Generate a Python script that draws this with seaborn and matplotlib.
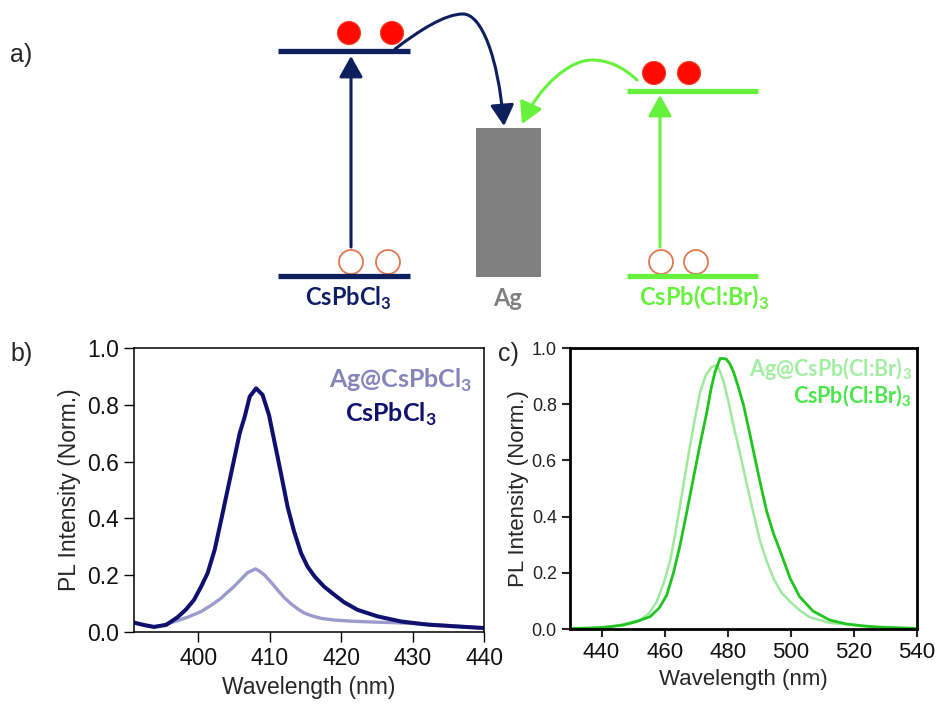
import matplotlib
matplotlib.use("Agg")
import numpy as np
import pandas as pd
import matplotlib.pyplot as plt
import seaborn as sns
from matplotlib.patches import Rectangle, Circle, FancyArrowPatch
from matplotlib.path import Path

# ---------------- data ----------------
# Panel b: CsPbCl3 and Ag@CsPbCl3
wl_b_pure = [391, 392.5, 393.8, 395.5, 397.1, 398.3, 399.4, 400.4, 401.3, 402.3, 403.2, 404.1,
             405.0, 405.8, 406.5, 407.2, 408.1, 409.0, 409.9, 410.5, 411.1, 411.8, 412.5, 413.4,
             414.4, 415.3, 416.3, 417.6, 419.1, 420.4, 422.3, 425.1, 428.4, 432.1, 435.9, 440]
pl_b_pure = [0.033, 0.024, 0.018, 0.025, 0.052, 0.080, 0.113, 0.160, 0.207, 0.290, 0.394, 0.500,
             0.606, 0.700, 0.758, 0.829, 0.858, 0.835, 0.764, 0.690, 0.617, 0.530, 0.441, 0.355,
             0.277, 0.230, 0.195, 0.160, 0.130, 0.105, 0.078, 0.055, 0.037, 0.026, 0.020, 0.014]
wl_b_ag = [391, 392.5, 393.8, 395.2, 396.6, 398.5, 400.4, 401.8, 403.2, 404.1, 405.0, 406.0,
           406.9, 408.0, 408.6, 409.3, 410.2, 411.1, 412.0, 413.0, 414.0, 414.9, 416.0, 417.2,
           419.1, 421.5, 424.5, 428.4, 433.0, 440]
pl_b_ag = [0.033, 0.024, 0.017, 0.025, 0.036, 0.052, 0.072, 0.094, 0.119, 0.140, 0.160, 0.186,
           0.209, 0.222, 0.214, 0.200, 0.175, 0.148, 0.122, 0.099, 0.080, 0.066, 0.056, 0.048,
           0.042, 0.038, 0.035, 0.032, 0.026, 0.014]

# Panel c: CsPb(Cl:Br)3 and Ag@CsPb(Cl:Br)3
wl_c_pure = [430, 436.3, 440, 446.9, 451.0, 455.4, 458.3, 460.7, 462.8, 464.9, 467.0, 469.1,
             471.2, 473.4, 474.8, 476.0, 477.6, 479.5, 480.6, 481.8, 483.4, 485.0, 486.6, 488.2,
             490.3, 492.4, 494.5, 496.7, 499.8, 502.8, 507.0, 512.3, 517.6, 522.9, 528.1, 540]
pl_c_pure = [0.002, 0.003, 0.005, 0.014, 0.026, 0.044, 0.075, 0.121, 0.200, 0.299, 0.415, 0.536,
             0.655, 0.773, 0.860, 0.916, 0.963, 0.961, 0.945, 0.916, 0.860, 0.797, 0.715, 0.631,
             0.520, 0.417, 0.340, 0.275, 0.180, 0.115, 0.064, 0.032, 0.018, 0.011, 0.006, 0.002]
wl_c_ag = [430, 436.0, 443.5, 446.9, 452.2, 455.0, 457.5, 459.6, 461.7, 463.3, 464.9, 466.5,
           468.1, 469.7, 471.3, 473.1, 475.0, 476.6, 477.6, 478.7, 480.2, 481.8, 484.0, 486.1,
           488.2, 490.3, 492.4, 494.5, 497.0, 499.8, 503.0, 506.0, 512.3, 522.9, 540]
pl_c_ag = [0.002, 0.004, 0.009, 0.017, 0.032, 0.055, 0.097, 0.160, 0.240, 0.335, 0.441, 0.550,
           0.655, 0.755, 0.845, 0.905, 0.933, 0.940, 0.915, 0.880, 0.810, 0.726, 0.620, 0.512,
           0.410, 0.311, 0.240, 0.180, 0.130, 0.097, 0.065, 0.042, 0.022, 0.011, 0.002]

xticks_b = [400, 410, 420, 430, 440]
xticks_c = [440, 460, 480, 500, 520, 540]
yticks = [0.0, 0.2, 0.4, 0.6, 0.8, 1.0]

# ---------------- style ----------------
sns.set_theme(style="ticks")
plt.rcParams['font.family'] = ['Liberation Sans', 'DejaVu Sans']
plt.rcParams['mathtext.fontset'] = 'custom'
plt.rcParams['mathtext.bf'] = 'Lato:bold'
plt.rcParams['mathtext.rm'] = 'Lato'

NAVY = "#0d1f5c"
GREEN = "#66f23c"
GRAY = "#808080"

fig = plt.figure(figsize=(9.38, 7.06), dpi=100)

# ---------------- panel a: schematic ----------------
axa = fig.add_axes([0, 1 - 320 / 706, 1, 320 / 706])
axa.set_xlim(0, 938)
axa.set_ylim(320, 0)
axa.axis("off")

axa.text(10, 55, "a)", fontsize=18, va="center", ha="left", family="Liberation Sans")

# levels
for (x0, x1, y, c) in [(278, 410, 51, NAVY), (278, 410, 276, NAVY),
                       (627, 758, 91, GREEN), (627, 758, 276, GREEN)]:
    axa.plot([x0, x1], [y, y], color=c, lw=3.8, solid_capstyle="butt")

# Ag block
axa.add_patch(Rectangle((476, 128), 65, 149, color=GRAY, lw=0))

# electrons (filled) and holes (open)
for (cx, cy) in [(349, 33), (392, 33), (654, 73), (689, 73)]:
    axa.add_patch(Circle((cx, cy), 11.5, facecolor="#ff0a00", edgecolor="#f04020", lw=0.8))
for (cx, cy) in [(351, 262), (388, 262), (661, 262), (696, 262)]:
    axa.add_patch(Circle((cx, cy), 12, facecolor="white", edgecolor="#e07850", lw=1.3))

# excitation arrows
ast = "-|>,head_length=8,head_width=4.5"
for (x, y0, y1, c) in [(351, 247, 56, NAVY), (660, 247, 95, GREEN)]:
    axa.add_patch(FancyArrowPatch((x, y0), (x, y1), arrowstyle=ast,
                                  color=c, lw=2.2, mutation_scale=1.6, shrinkA=0, shrinkB=0))

# transfer arrows
p1 = Path([(395, 49), (420, 30), (445, 14), (463, 14), (481, 14), (498, 55), (504, 126)],
          [Path.MOVETO, Path.CURVE4, Path.CURVE4, Path.CURVE4, Path.CURVE4, Path.CURVE4, Path.CURVE4])
axa.add_patch(FancyArrowPatch(path=p1, arrowstyle=ast, color=NAVY, lw=2.2, mutation_scale=1.6))
p2 = Path([(637, 80), (622, 66), (607, 60), (592, 60), (570, 60), (540, 85), (522, 124)],
          [Path.MOVETO, Path.CURVE4, Path.CURVE4, Path.CURVE4, Path.CURVE4, Path.CURVE4, Path.CURVE4])
axa.add_patch(FancyArrowPatch(path=p2, arrowstyle=ast, color=GREEN, lw=2.2, mutation_scale=1.6))

lab_kw = dict(fontsize=17, ha="center", va="center", family="Lato", fontweight="bold")
axa.text(348, 298, r"CsPbCl$_\mathbf{3}$", color="#0f1d66", **lab_kw)
axa.text(508, 298, "Ag", color=GRAY, **lab_kw)
axa.text(704, 298, r"CsPb(Cl:Br)$_\mathbf{3}$", color=GREEN, **lab_kw)

# ---------------- panel b ----------------
axb = fig.add_axes([134 / 938, 1 - 632 / 706, 350 / 938, 284 / 706])
df_b = pd.concat([
    pd.DataFrame({"Wavelength": wl_b_ag, "PL": pl_b_ag, "sample": "Ag@CsPbCl3"}),
    pd.DataFrame({"Wavelength": wl_b_pure, "PL": pl_b_pure, "sample": "CsPbCl3"}),
])
sns.lineplot(data=df_b, x="Wavelength", y="PL", hue="sample", size="sample",
             palette={"Ag@CsPbCl3": "#9a9acd", "CsPbCl3": "#10106e"},
             sizes={"Ag@CsPbCl3": 2.4, "CsPbCl3": 2.9},
             sort=False, legend=False, ax=axb)
axb.set_xlim(391, 440)
axb.set_ylim(0, 1.0)
axb.set_xticks(xticks_b)
axb.set_yticks(yticks)
axb.set_yticklabels([f"{v:.1f}" for v in yticks])
axb.tick_params(direction="out", length=7, width=1.0, labelsize=16.5, color="black",
                labelcolor="#111111", pad=4)
for s in axb.spines.values():
    s.set_visible(True)
    s.set_linewidth(1.1)
    s.set_color("black")
axb.set_xlabel("Wavelength (nm)", fontsize=16.5, labelpad=4)
axb.set_ylabel("PL Intensity (Norm.)", fontsize=16.5, labelpad=4)
axb.text(472 / 938, 1 - 380 / 706, r"Ag@CsPbCl$_\mathbf{3}$", transform=fig.transFigure,
         ha="right", va="center", fontsize=18, family="Lato", fontweight="bold", color="#8585bc")
axb.text(437 / 938, 1 - 414 / 706, r"CsPbCl$_\mathbf{3}$", transform=fig.transFigure,
         ha="right", va="center", fontsize=18, family="Lato", fontweight="bold", color="#10106e")
fig.text(10 / 938, 1 - 354 / 706, "b)", fontsize=18, va="center", ha="left")

# ---------------- panel c ----------------
axc = fig.add_axes([570 / 938, 1 - 629 / 706, 347 / 938, 281 / 706])
df_c = pd.concat([
    pd.DataFrame({"Wavelength": wl_c_ag, "PL": pl_c_ag, "sample": "Ag@CsPb(Cl:Br)3"}),
    pd.DataFrame({"Wavelength": wl_c_pure, "PL": pl_c_pure, "sample": "CsPb(Cl:Br)3"}),
])
sns.lineplot(data=df_c, x="Wavelength", y="PL", hue="sample", size="sample",
             palette={"Ag@CsPb(Cl:Br)3": "#9fe89f", "CsPb(Cl:Br)3": "#1fc41f"},
             sizes={"Ag@CsPb(Cl:Br)3": 1.8, "CsPb(Cl:Br)3": 2.0},
             sort=False, legend=False, ax=axc)
axc.set_xlim(430, 540)
axc.set_ylim(0, 1.0)
axc.set_xticks(xticks_c)
axc.set_yticks(yticks)
axc.set_yticklabels([f"{v:.1f}" for v in yticks])
axc.tick_params(axis="x", direction="out", length=6, width=1.5, labelsize=16, labelcolor="#111111")
axc.tick_params(axis="y", direction="out", length=6, width=1.5, labelsize=13, labelcolor="#222222")
for s in axc.spines.values():
    s.set_visible(True)
    s.set_linewidth(2.0)
    s.set_color("black")
axc.set_xlabel("Wavelength (nm)", fontsize=16, labelpad=4)
axc.set_ylabel("PL Intensity (Norm.)", fontsize=16, labelpad=2)
axc.text(912 / 938, 1 - 369 / 706, r"Ag@CsPb(Cl:Br)$_\mathbf{3}$", transform=fig.transFigure,
         ha="right", va="center", fontsize=15.5, family="Lato", fontweight="bold", color="#a2eea2")
axc.text(912 / 938, 1 - 396 / 706, r"CsPb(Cl:Br)$_\mathbf{3}$", transform=fig.transFigure,
         ha="right", va="center", fontsize=15.5, family="Lato", fontweight="bold", color="#4be64b")
fig.text(498 / 938, 1 - 354 / 706, "c)", fontsize=18, va="center", ha="left")

fig.savefig("out.png", dpi=100)
